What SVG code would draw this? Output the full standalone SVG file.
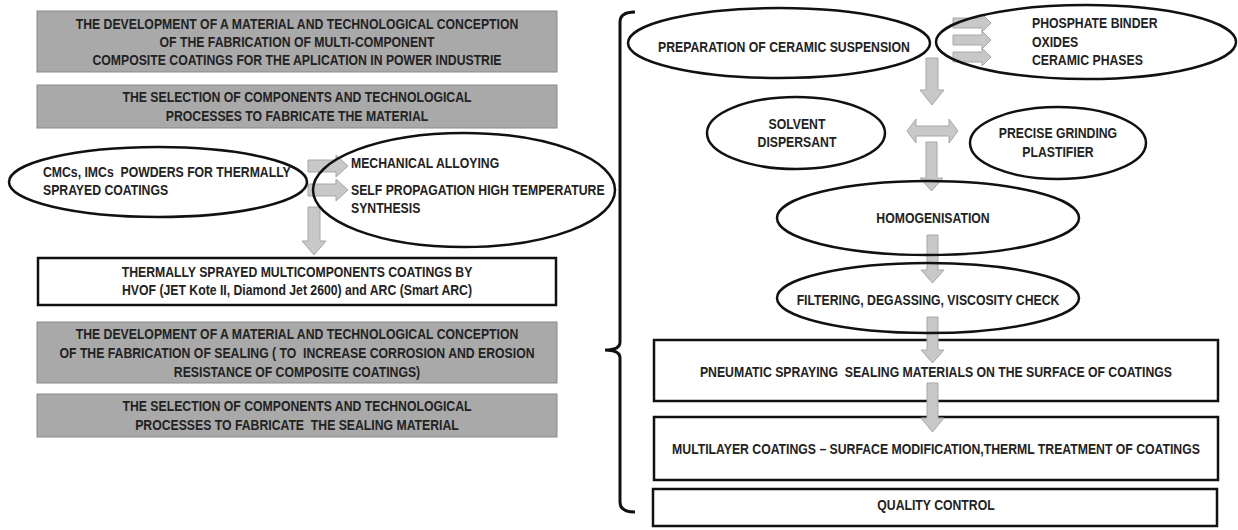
<svg xmlns="http://www.w3.org/2000/svg" width="1238" height="530" viewBox="0 0 1238 530">
<style>
text{font-family:"Liberation Sans",Arial,sans-serif;font-weight:bold;font-size:14px;fill:#222;white-space:pre}
.c{text-anchor:middle}
.gbox{fill:#a9a9a9;stroke:#8a8a8a;stroke-width:1}
.wbox{fill:#fff;stroke:#111;stroke-width:2.5}
.ell{fill:none;stroke:#111;stroke-width:2.5}
.arr{fill:#c8c8c8;stroke:#a8a8a8;stroke-width:1}
.br{fill:none;stroke:#111;stroke-width:3}
</style>
<rect width="1238" height="530" fill="#fff"/>

<g id="box-dev-material">
<rect class="gbox" x="37" y="11" width="520" height="61"/>
<text class="c" transform="scale(.875 1)" x="339.43" y="29">THE DEVELOPMENT OF A MATERIAL AND TECHNOLOGICAL CONCEPTION</text>
<text class="c" transform="scale(.875 1)" x="339.43" y="47">OF THE FABRICATION OF MULTI-COMPONENT</text>
<text class="c" transform="scale(.875 1)" x="339.43" y="65">COMPOSITE COATINGS FOR THE APLICATION IN POWER INDUSTRIE</text>
</g>
<g id="box-select-material">
<rect class="gbox" x="37" y="85" width="520" height="43"/>
<text class="c" transform="scale(.875 1)" x="339.43" y="102">THE SELECTION OF COMPONENTS AND TECHNOLOGICAL</text>
<text class="c" transform="scale(.875 1)" x="339.43" y="121">PROCESSES TO FABRICATE THE MATERIAL</text>
</g>
<g id="box-thermal">
<rect class="wbox" x="38" y="258" width="518" height="47"/>
<text class="c" transform="scale(.875 1)" x="339.43" y="277">THERMALLY SPRAYED MULTICOMPONENTS COATINGS BY</text>
<text class="c" transform="scale(.875 1)" x="339.43" y="295">HVOF (JET Kote II, Diamond Jet 2600) and ARC (Smart ARC)</text>
</g>
<g id="box-dev-sealing">
<rect class="gbox" x="37" y="322" width="520" height="61"/>
<text class="c" transform="scale(.875 1)" x="339.43" y="339">THE DEVELOPMENT OF A MATERIAL AND TECHNOLOGICAL CONCEPTION</text>
<text class="c" transform="scale(.875 1)" x="339.43" y="358">OF THE FABRICATION OF SEALING ( TO  INCREASE CORROSION AND EROSION</text>
<text class="c" transform="scale(.875 1)" x="339.43" y="377">RESISTANCE OF COMPOSITE COATINGS)</text>
</g>
<g id="box-select-sealing">
<rect class="gbox" x="37" y="394" width="520" height="43"/>
<text class="c" transform="scale(.875 1)" x="339.43" y="411">THE SELECTION OF COMPONENTS AND TECHNOLOGICAL</text>
<text class="c" transform="scale(.875 1)" x="339.43" y="430">PROCESSES TO FABRICATE  THE SEALING MATERIAL</text>
</g>

<g id="box-pneumatic">
<rect class="wbox" x="654" y="340" width="564" height="61"/>
<text class="c" transform="scale(.875 1)" x="1069.71" y="377">PNEUMATIC SPRAYING  SEALING MATERIALS ON THE SURFACE OF COATINGS</text>
</g>
<g id="box-multilayer">
<rect class="wbox" x="654" y="417" width="564" height="63"/>
<text class="c" transform="scale(.875 1)" x="1069.71" y="454">MULTILAYER COATINGS – SURFACE MODIFICATION,THERML TREATMENT OF COATINGS</text>
</g>
<g id="box-quality">
<rect class="wbox" x="653" y="489" width="564" height="37"/>
<text class="c" transform="scale(.875 1)" x="1069.71" y="510">QUALITY CONTROL</text>
</g>

<g id="connectors">
<polygon class="arr" points="308,160 336,160 336,155 348,166 336,177 336,172 308,172"/>
<polygon class="arr" points="308,184 336,184 336,179 348,190 336,201 336,196 308,196"/>
<polygon class="arr" points="308,207 320,207 320,241 326,241 314,255 302,241 308,241"/>
<polygon class="arr" points="953,18 982,18 982,14 991,23 982,32 982,28 953,28"/>
<polygon class="arr" points="953,35 982,35 982,31 991,40 982,49 982,45 953,45"/>
<polygon class="arr" points="953,52 982,52 982,48 991,57 982,66 982,62 953,62"/>
<polygon class="arr" points="926,58 938,58 938,90 944,90 932,105 920,90 926,90"/>
<polygon class="arr" points="907,131 916,119 916,126 949,126 949,119 958,131 949,143 949,136 916,136 916,143"/>
<polygon class="arr" points="926,142 937,142 937,178 943,178 931.5,191 920,178 926,178"/>
<polygon class="arr" points="927,235 938,235 938,270 944,270 932.5,283 921,270 927,270"/>
<polygon class="arr" points="927,317 938,317 938,350 944,350 932.5,363 921,350 927,350"/>
<polygon class="arr" points="927,383 938,383 938,418 944,418 932.5,432 921,418 927,418"/>
<path class="br" d="M635,12 Q620,12 620,22 L620,342 Q620,350 605,350 Q620,350 620,358 L620,502 Q620,512 635,512"/>
</g>

<g id="ell-powders">
<ellipse class="ell" cx="158" cy="182" rx="149" ry="35"/>
<text transform="scale(.875 1)" x="49.14" y="177">CMCs, IMCs  POWDERS FOR THERMALLY</text>
<text transform="scale(.875 1)" x="49.14" y="195">SPRAYED COATINGS</text>
</g>
<g id="ell-alloying">
<ellipse class="ell" cx="464" cy="190" rx="151" ry="57"/>
<text transform="scale(.875 1)" x="401.14" y="168">MECHANICAL ALLOYING</text>
<text transform="scale(.875 1)" x="401.14" y="195">SELF PROPAGATION HIGH TEMPERATURE</text>
<text transform="scale(.875 1)" x="401.14" y="213">SYNTHESIS</text>
</g>
<g id="ell-preparation">
<ellipse class="ell" cx="779" cy="43" rx="151" ry="35"/>
<text class="c" transform="scale(.875 1)" x="896" y="52">PREPARATION OF CERAMIC SUSPENSION</text>
</g>
<g id="ell-phosphate">
<ellipse class="ell" cx="1086" cy="42" rx="150" ry="37"/>
<text transform="scale(.875 1)" x="1179.43" y="28">PHOSPHATE BINDER</text>
<text transform="scale(.875 1)" x="1179.43" y="47">OXIDES</text>
<text transform="scale(.875 1)" x="1179.43" y="65">CERAMIC PHASES</text>
</g>
<g id="ell-solvent">
<ellipse class="ell" cx="796" cy="133" rx="89" ry="36"/>
<text class="c" transform="scale(.875 1)" x="910.86" y="129">SOLVENT</text>
<text class="c" transform="scale(.875 1)" x="910.86" y="147">DISPERSANT</text>
</g>
<g id="ell-grinding">
<ellipse class="ell" cx="1058" cy="143" rx="88" ry="36"/>
<text class="c" transform="scale(.875 1)" x="1209.14" y="138">PRECISE GRINDING</text>
<text class="c" transform="scale(.875 1)" x="1209.14" y="157">PLASTIFIER</text>
</g>
<g id="ell-homogenisation">
<ellipse class="ell" cx="928" cy="218" rx="151" ry="37"/>
<text class="c" transform="scale(.875 1)" x="1066.29" y="223">HOMOGENISATION</text>
</g>
<g id="ell-filtering">
<ellipse class="ell" cx="928" cy="298" rx="151" ry="35"/>
<text class="c" transform="scale(.875 1)" x="1060.57" y="305">FILTERING, DEGASSING, VISCOSITY CHECK</text>
</g>
</svg>
